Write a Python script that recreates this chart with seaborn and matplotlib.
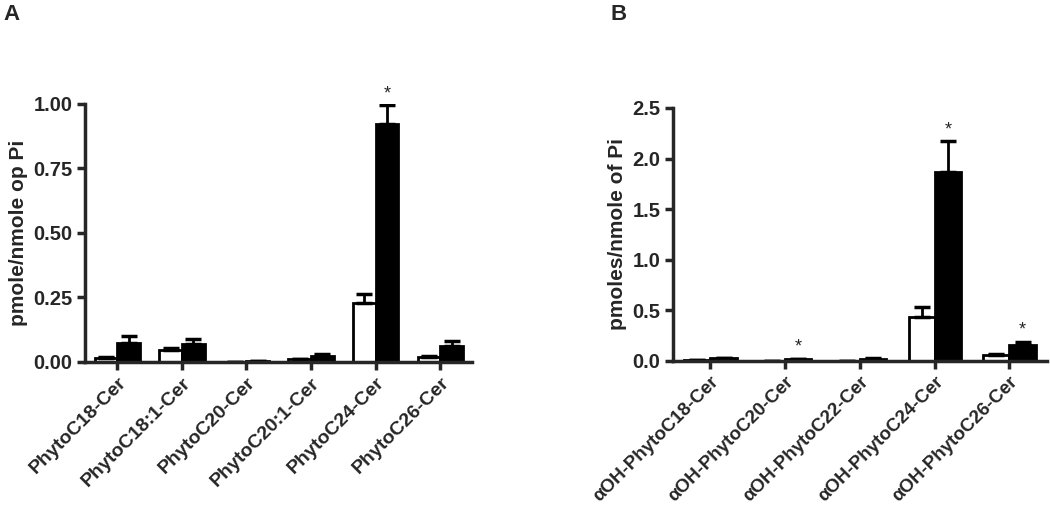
import numpy as np
import pandas as pd
import matplotlib
matplotlib.use("Agg")
import matplotlib.pyplot as plt
import seaborn as sns

# Panel A data
cats_a = ["PhytoC18-Cer", "PhytoC18:1-Cer", "PhytoC20-Cer",
          "PhytoC20:1-Cer", "PhytoC24-Cer", "PhytoC26-Cer"]
white_a = [0.015, 0.045, 0.0, 0.010, 0.230, 0.018]
white_a_err = [0.004, 0.008, 0.0, 0.003, 0.035, 0.005]
black_a = [0.075, 0.070, 0.003, 0.022, 0.920, 0.062]
black_a_err = [0.025, 0.020, 0.001, 0.010, 0.075, 0.020]
stars_a = [False, False, False, False, True, False]

# Panel B data
cats_b = ["αOH-PhytoC18-Cer", "αOH-PhytoC20-Cer", "αOH-PhytoC22-Cer",
          "αOH-PhytoC24-Cer", "αOH-PhytoC26-Cer"]
white_b = [0.005, 0.0, 0.0, 0.43, 0.06]
white_b_err = [0.002, 0.0, 0.0, 0.10, 0.01]
black_b = [0.025, 0.015, 0.020, 1.87, 0.160]
black_b_err = [0.005, 0.004, 0.005, 0.30, 0.030]
stars_b = [False, True, False, True, True]

groups = ["control", "treated"]

sns.set_style("ticks")
plt.rcParams["font.family"] = ["Liberation Sans", "DejaVu Sans"]
plt.rcParams["font.weight"] = "bold"


def panel(ax, cats, wv, we, bv, be, stars, ylim, yticks, yfmt, ylabel, xfs):
    df = pd.DataFrame({
        "cat": cats * 2,
        "grp": [groups[0]] * len(cats) + [groups[1]] * len(cats),
        "val": wv + bv,
    })
    sns.barplot(data=df, x="cat", y="val", hue="grp", hue_order=groups,
                palette={"control": "white", "treated": "black"},
                order=cats, errorbar=None, width=0.7, legend=False,
                edgecolor="black", linewidth=2, saturation=1, ax=ax)
    errs = [we, be]
    tops = []
    for cont, err in zip(ax.containers, errs):
        xs = [p.get_x() + p.get_width() / 2 for p in cont.patches]
        hs = [p.get_height() for p in cont.patches]
        e = np.array(err)
        ax.errorbar(xs, hs, yerr=[np.zeros_like(e), e], fmt="none",
                    ecolor="black", elinewidth=2, capsize=6, capthick=2.5,
                    zorder=1)
        tops.append((xs, np.array(hs) + e))
    bx, btop = tops[1]
    span = ylim[1] - ylim[0]
    for i, s in enumerate(stars):
        if s:
            ax.text(bx[i], btop[i] + span * 0.012, "*", ha="center",
                    va="bottom", fontsize=13, fontweight="normal",
                    clip_on=False)
    ax.set_ylim(*ylim)
    ax.set_xlim(-0.5, len(cats) - 0.5)
    ax.set_yticks(yticks)
    ax.set_yticklabels([yfmt.format(t) for t in yticks], fontsize=14.5,
                       fontweight="bold")
    ax.set_xticks(range(len(cats)))
    ax.set_xticklabels(cats, rotation=45, ha="right", rotation_mode="anchor",
                       fontsize=xfs, fontweight="bold")
    ax.set_xlabel("")
    ax.set_ylabel(ylabel, fontsize=15, fontweight="bold", labelpad=4)
    sns.despine(ax=ax)
    for sp in ["left", "bottom"]:
        ax.spines[sp].set_linewidth(2.5)
    ax.tick_params(width=2.5, length=6, direction="out", pad=3)


fig = plt.figure(figsize=(10.5, 5.09), dpi=100)
ax1 = fig.add_axes([0.081, 0.289, 0.369, 0.507])
ax2 = fig.add_axes([0.641, 0.291, 0.356, 0.497])

panel(ax1, cats_a, white_a, white_a_err, black_a, black_a_err, stars_a,
      (0, 1.0), [0, 0.25, 0.5, 0.75, 1.0], "{:.2f}", "pmole/nmole op Pi",
      14)
panel(ax2, cats_b, white_b, white_b_err, black_b, black_b_err, stars_b,
      (0, 2.5), [0, 0.5, 1.0, 1.5, 2.0, 2.5], "{:.1f}", "pmoles/nmole of Pi",
      13.5)

fig.text(0.003, 0.972, "A", fontsize=16, fontweight="bold", va="center")
fig.text(0.581, 0.972, "B", fontsize=16, fontweight="bold", va="center")

fig.savefig("out.png", dpi=100)
